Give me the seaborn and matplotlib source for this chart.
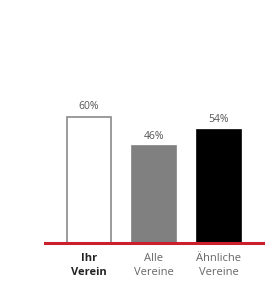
import matplotlib
matplotlib.use('Agg')
import matplotlib.pyplot as plt
import seaborn as sb
import pandas as pd

categories = ['Ihr\nVerein', 'Alle\nVereine', 'Ähnliche\nVereine']
values = [60, 46, 54]
labels = ['60%', '46%', '54%']
colors = ['#ffffff', '#808080', '#000000']
edges = ['#8a8a8a', '#808080', '#000000']

sb.set_style('white')
plt.rcParams['font.family'] = ['Open Sans', 'DejaVu Sans']

df = pd.DataFrame({'cat': categories, 'val': values})

fig = plt.figure(figsize=(2.69, 2.89), dpi=100)
ax = fig.add_axes([45 / 269, 1 - 243 / 289, 218 / 269, 210 / 289])
sb.barplot(data=df, x='cat', y='val', hue='cat', palette=colors, legend=False,
           width=0.68, linewidth=1.2, ax=ax)
for patch, ec in zip(ax.patches, edges):
    patch.set_edgecolor(ec)

for i, (v, t) in enumerate(zip(values, labels)):
    ax.text(i, v + 2.3, t, ha='center', va='bottom', fontsize=7.5, color='#555555')

ax.set_xlim(-0.677, 2.677)
ax.set_ylim(0, 100)
ax.set_xlabel('')
ax.set_ylabel('')
ax.set_yticks([])
for s in ['top', 'right', 'left']:
    ax.spines[s].set_visible(False)
ax.spines['bottom'].set_color('#cc1f2d')
ax.spines['bottom'].set_linewidth(2.2)
ax.tick_params(axis='x', length=0, pad=7)
ax.set_xticks(range(3))
ax.set_xticklabels(categories, fontsize=8, linespacing=1.35)
for i, lab in enumerate(ax.get_xticklabels()):
    if i == 0:
        lab.set_fontweight('bold')
        lab.set_color('#222222')
    else:
        lab.set_color('#666666')

fig.savefig('out.png', dpi=100)
